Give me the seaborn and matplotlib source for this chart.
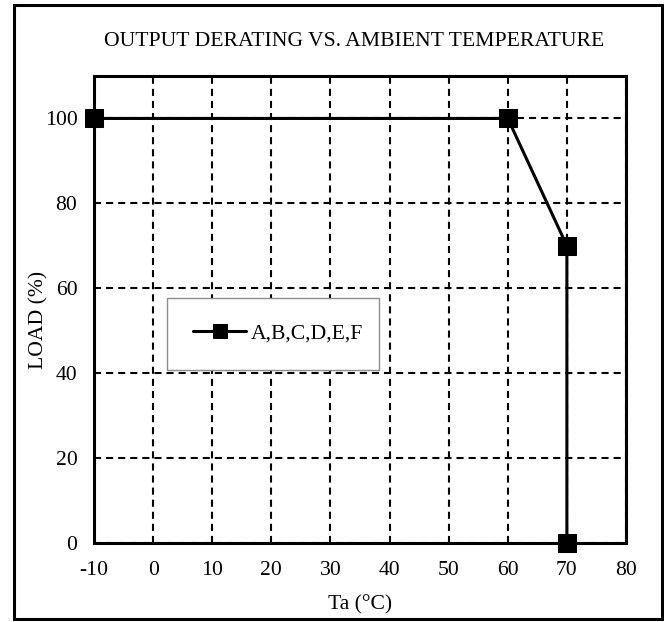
import numpy as np
import pandas as pd
import matplotlib
matplotlib.use("Agg")
import matplotlib.pyplot as plt
import seaborn as sns
from matplotlib.patches import Rectangle

# derating curve
temp = [-10, 60, 70, 70]
load = [100, 100, 70, 0]
series = "A,B,C,D,E,F"

x_ticks = [-10, 0, 10, 20, 30, 40, 50, 60, 70, 80]
y_ticks = [0, 20, 40, 60, 80, 100]

sns.set_style("white")
plt.rcParams['font.family'] = ['Liberation Serif', 'DejaVu Serif']
plt.rcParams['axes.unicode_minus'] = False
plt.rcParams['text.color'] = 'black'
plt.rcParams['axes.labelcolor'] = 'black'

fs = 15.6

df = pd.DataFrame({"Ta": temp, "Load": load, "grp": series})

fig = plt.figure(figsize=(6.64, 6.22), dpi=100)
ax = fig.add_axes([94/664, 1-543/622, 532/664, 467/622])

ax.set_xlim(-10, 80)
ax.set_ylim(0, 110)
ax.set_xticks(x_ticks)
ax.set_yticks(y_ticks)
ax.grid(True, color="black", linestyle=(0, (3.4, 2.4)), linewidth=1.5)
ax.set_axisbelow(True)

sns.lineplot(data=df, x="Ta", y="Load", hue="grp", palette=["black"], sort=False,
             estimator=None, marker="s", markersize=13, markeredgecolor="black",
             linewidth=2.2, ax=ax, clip_on=False, zorder=5)

for s in ax.spines.values():
    s.set_linewidth(2.2)
    s.set_color("black")
ax.tick_params(axis="both", length=0, labelsize=fs, colors="black")
ax.tick_params(axis="x", pad=13)
ax.tick_params(axis="y", pad=12)

ax.set_xlabel("Ta (°C)", fontsize=fs, labelpad=11, color="black")
ax.set_ylabel("LOAD (%)", fontsize=fs, va="center", color="black")
ax.yaxis.set_label_coords((39-94)/532, (543-320)/467)

leg = ax.legend(loc="lower left", bbox_to_anchor=((167-94)/532, (543-370)/467, (379-167)/532, 75/467),
                mode="expand", fontsize=fs, frameon=True, fancybox=False,
                handlelength=2.45, handletextpad=0.2, borderpad=1.2, borderaxespad=0, title=None)
leg.get_frame().set_edgecolor("#8c8c8c")
leg.get_frame().set_linewidth(1.0)
leg.get_frame().set_facecolor("white")
leg.get_frame().set_alpha(1)
for h in leg.legend_handles:
    h.set_markersize(10)
for t in leg.get_texts():
    t.set_color("black")

fig.text(354/664, 1-42/622, "OUTPUT DERATING VS. AMBIENT TEMPERATURE",
         ha="center", va="center", fontsize=fs, color="black")

fig.patches.append(Rectangle((14/664, 3/622), 648/664, 614/622, transform=fig.transFigure,
                             fill=False, edgecolor="black", linewidth=2.2))

fig.savefig("out.png", dpi=100)
